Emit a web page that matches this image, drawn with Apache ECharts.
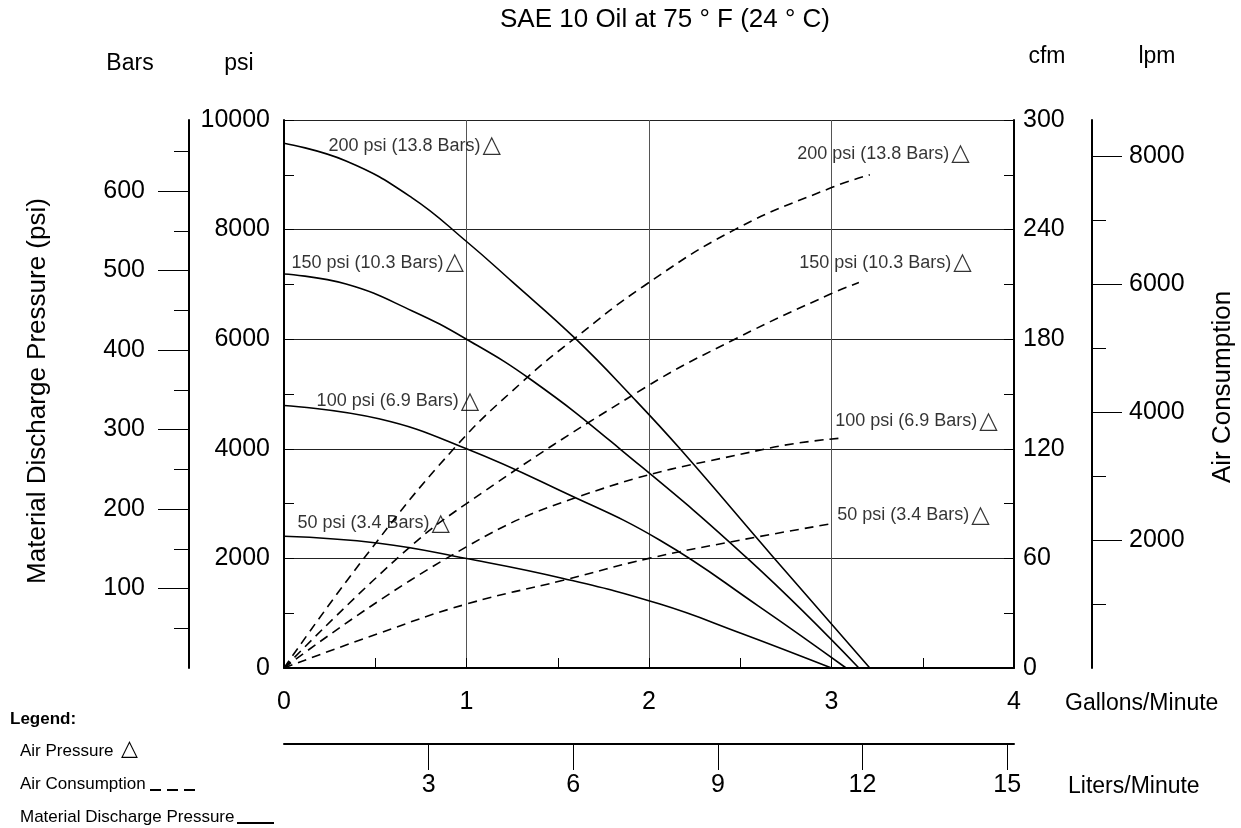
<!DOCTYPE html>
<html>
<head>
<meta charset="utf-8">
<script src="https://cdn.jsdelivr.net/npm/echarts@6/dist/echarts.min.js"></script>
<style>html,body{margin:0;padding:0;background:#fff}#c{width:1241px;height:828px}</style>
</head>
<body>
<div id="c"></div>
<script>
// ---- data (gpm, psi) : material discharge pressure ----
const mdp200 = [[0,9576],[0.34,9253],[0.70,8585],[1.0,7783],[1.25,7050],[1.6,6000],[1.91,4942],[2.17,4000],[2.68,2027],[3.21,0]];
const mdp150 = [[0,7189],[0.34,7007],[0.70,6521],[1.0,6000],[1.36,5246],[1.84,4000],[2.55,1967],[3.15,0]];
const mdp100 = [[0,4790],[0.52,4548],[1.0,4002],[1.53,3212],[2.06,2332],[2.6,1130],[3.08,0]];
const mdp50  = [[0,2404],[0.52,2277],[1.0,1998],[1.53,1634],[2.06,1166],[2.5,640],[3.0,0]];
// ---- data (gpm, cfm) : air consumption ----
const ac200 = [[0,0],[0.43,59],[0.93,120],[1.31,157],[1.6,181],[1.97,209],[2.47,240],[3.0,263],[3.21,270]];
const ac150 = [[0,0],[0.62,60],[1.0,90],[1.97,153],[2.47,180],[3.0,205],[3.15,211]];
const ac100 = [[0,0],[0.89,60],[1.62,94],[2.64,120],[3.07,126]];
const ac50  = [[0,0],[0.52,19],[1.0,35],[1.53,48],[2.0,60],[2.5,70],[3.0,79]];
// ---- air pressure labels ----
const airPressureNames = ['200 psi (13.8 Bars)','150 psi (10.3 Bars)','100 psi (6.9 Bars)','50 psi (3.4 Bars)'];
const leftLabelPos  = [[0.241,9526],[0.038,7395],[0.176,4863],[0.071,2641]];
const rightLabelPos = [[2.809,9381],[2.820,7395],[3.018,4499],[3.029,2787]];
// ---- axis ticks ----
const barsMajor = [100,200,300,400,500,600];
const barsMinor = [50,150,250,350,450,550,650];
const lpmMajor = [2000,4000,6000,8000];
const lpmMinor = [1000,3000,5000,7000];
const literTicks = [3,6,9,12,15];

const FONT = "'Liberation Sans', Arial, Helvetica, sans-serif";
const chart = echarts.init(document.getElementById('c'), null, {renderer:'canvas'});
const plain = v => String(v);

function solid(data){ return {type:'line', data, xAxisIndex:0, yAxisIndex:0, smooth:0.45, showSymbol:false, silent:true,
  lineStyle:{color:'#000', width:1.6}}; }
function dashed(data){ return {type:'line', data, xAxisIndex:0, yAxisIndex:3, smooth:0.45, showSymbol:false, silent:true,
  lineStyle:{color:'#000', width:1.6, type:[9,6]}}; }
function labels(pos){ return {type:'scatter', xAxisIndex:0, yAxisIndex:0, symbolSize:1, silent:true,
  itemStyle:{color:'rgba(0,0,0,0)'},
  data: pos.map((p,i)=>({value:p, name:airPressureNames[i]})),
  label:{show:true, position:'right', distance:0, color:'#000', fontFamily:FONT, fontSize:18,
    formatter: p => '{a|' + p.name + '}{t|△}',
    rich:{a:{color:'#000', fontFamily:FONT, fontSize:18},
          t:{fontFamily:"'DejaVu Sans', sans-serif", fontSize:24, color:'#000', padding:[0,0,0,2]}}}}; }

const blackLine = {color:'#000', width:2};
const option = {
  animation:false,
  backgroundColor:'#fff',
  grid:{left:284, right:227, top:120, bottom:160, containLabel:false},
  xAxis:[
    {type:'value', min:0, max:4, interval:1, position:'bottom',
     axisLine:{show:true, onZero:false, lineStyle:blackLine},
     axisTick:{show:true, inside:true, length:10, lineStyle:{color:'#000'}},
     minorTick:{show:true, splitNumber:2, length:10, lineStyle:{color:'#000'}},
     axisLabel:{fontSize:25, color:'#000', fontFamily:FONT, margin:22, formatter:plain},
     splitLine:{show:true, lineStyle:{color:'#555', width:1}}},
    {type:'value', min:0, max:15.142, position:'bottom', offset:76,
     axisLine:{show:true, onZero:false, lineStyle:blackLine},
     axisTick:{show:true, length:26, customValues:literTicks, lineStyle:{color:'#000'}},
     axisLabel:{fontSize:25, color:'#000', fontFamily:FONT, margin:29, customValues:literTicks, formatter:plain},
     splitLine:{show:false}}
  ],
  yAxis:[
    {type:'value', min:0, max:10000, interval:2000, position:'left',
     axisLine:{show:true, onZero:false, lineStyle:blackLine},
     axisTick:{show:true, inside:true, length:10, lineStyle:{color:'#000'}},
     minorTick:{show:true, splitNumber:2, length:10, lineStyle:{color:'#000'}},
     axisLabel:{fontSize:25, color:'#000', fontFamily:FONT, margin:14, padding:[0,0,8,0], formatter:plain},
     splitLine:{show:true, lineStyle:{color:'#222', width:1}}},
    {type:'value', min:0, max:689.48, position:'left', offset:95,
     axisLine:{show:true, onZero:false, lineStyle:blackLine},
     axisTick:{show:true, length:31, customValues:barsMajor, lineStyle:{color:'#000'}},
     axisLabel:{fontSize:25, color:'#000', fontFamily:FONT, margin:44, padding:[0,0,8,0], customValues:barsMajor, formatter:plain},
     splitLine:{show:false}},
    {type:'value', min:0, max:689.48, position:'left', offset:95,
     axisLine:{show:false, onZero:false},
     axisTick:{show:true, length:15, customValues:barsMinor, lineStyle:{color:'#000'}},
     axisLabel:{show:false}, splitLine:{show:false}},
    {type:'value', min:0, max:300, interval:60, position:'right',
     axisLine:{show:true, onZero:false, lineStyle:blackLine},
     axisTick:{show:true, inside:true, length:10, lineStyle:{color:'#000'}},
     minorTick:{show:true, splitNumber:2, length:10, lineStyle:{color:'#000'}},
     axisLabel:{fontSize:25, color:'#000', fontFamily:FONT, margin:9, padding:[0,0,8,0], formatter:plain},
     splitLine:{show:false}},
    {type:'value', min:0, max:8570, position:'right', offset:78,
     axisLine:{show:true, onZero:false, lineStyle:blackLine},
     axisTick:{show:true, length:30, customValues:lpmMajor, lineStyle:{color:'#000'}},
     axisLabel:{fontSize:25, color:'#000', fontFamily:FONT, margin:37, padding:[0,0,8,0], customValues:lpmMajor, formatter:plain},
     splitLine:{show:false}},
    {type:'value', min:0, max:8570, position:'right', offset:78,
     axisLine:{show:false, onZero:false},
     axisTick:{show:true, length:14, customValues:lpmMinor, lineStyle:{color:'#000'}},
     axisLabel:{show:false}, splitLine:{show:false}}
  ],
  series:[
    solid(mdp200), solid(mdp150), solid(mdp100), solid(mdp50),
    dashed(ac200), dashed(ac150), dashed(ac100), dashed(ac50),
    labels(leftLabelPos), labels(rightLabelPos)
  ],
  graphic:[
    {type:'text', x:665, y:20, style:{text:'SAE 10 Oil at 75 ° F (24 ° C)', font:'26px '+FONT, fill:'#000', textAlign:'center', textVerticalAlign:'middle'}},
    {type:'text', x:130, y:64, style:{text:'Bars', font:'23px '+FONT, fill:'#000', textAlign:'center', textVerticalAlign:'middle'}},
    {type:'text', x:239, y:64, style:{text:'psi', font:'23px '+FONT, fill:'#000', textAlign:'center', textVerticalAlign:'middle'}},
    {type:'text', x:1047, y:57, style:{text:'cfm', font:'23px '+FONT, fill:'#000', textAlign:'center', textVerticalAlign:'middle'}},
    {type:'text', x:1157, y:57, style:{text:'lpm', font:'23px '+FONT, fill:'#000', textAlign:'center', textVerticalAlign:'middle'}},
    {type:'text', x:1065, y:704, style:{text:'Gallons/Minute', font:'23px '+FONT, fill:'#000', textAlign:'left', textVerticalAlign:'middle'}},
    {type:'text', x:1068, y:787, style:{text:'Liters/Minute', font:'23px '+FONT, fill:'#000', textAlign:'left', textVerticalAlign:'middle'}},
    {type:'text', x:38, y:391, rotation:Math.PI/2, style:{text:'Material Discharge Pressure (psi)', font:'26px '+FONT, fill:'#000', textAlign:'center', textVerticalAlign:'middle'}},
    {type:'text', x:1223, y:387, rotation:Math.PI/2, style:{text:'Air Consumption', font:'26px '+FONT, fill:'#000', textAlign:'center', textVerticalAlign:'middle'}},
    {type:'text', x:10, y:719, style:{text:'Legend:', font:'bold 17px '+FONT, fill:'#000', textAlign:'left', textVerticalAlign:'middle'}},
    {type:'text', x:20, y:751, style:{text:'Air Pressure', font:'17px '+FONT, fill:'#000', textAlign:'left', textVerticalAlign:'middle'}},
    {type:'text', x:121, y:749, style:{text:'△', font:"22px 'DejaVu Sans', sans-serif", fill:'#000', textAlign:'left', textVerticalAlign:'middle'}},
    {type:'text', x:20, y:784, style:{text:'Air Consumption', font:'17px '+FONT, fill:'#000', textAlign:'left', textVerticalAlign:'middle'}},
    {type:'line', shape:{x1:150, y1:790, x2:196, y2:790}, style:{stroke:'#000', lineWidth:2, lineDash:[11,6]}},
    {type:'text', x:20, y:817, style:{text:'Material Discharge Pressure', font:'17px '+FONT, fill:'#000', textAlign:'left', textVerticalAlign:'middle'}},
    {type:'line', shape:{x1:237, y1:823, x2:274, y2:823}, style:{stroke:'#000', lineWidth:2}}
  ]
};
chart.setOption(option);
</script>
</body>
</html>
